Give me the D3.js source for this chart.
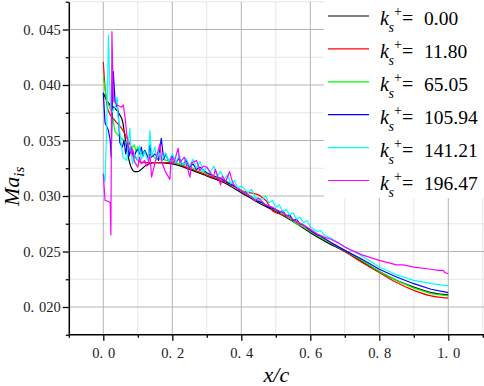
<!DOCTYPE html>
<html><head><meta charset="utf-8">
<script src="https://cdn.jsdelivr.net/npm/d3@7"></script>
<style>
html,body{margin:0;padding:0;background:#fff;} svg{display:block;}
</style>
</head><body>
<svg id="chart" width="484" height="386"></svg>
<script>
// ---------- data ----------
const xTicks = [0.0, 0.2, 0.4, 0.6, 0.8, 1.0];
const xMinor = [-0.1, 0.1, 0.3, 0.5, 0.7, 0.9, 1.1];
const yTicks = [0.020, 0.025, 0.030, 0.035, 0.040, 0.045];
const yMinor = [0.0175, 0.0225, 0.0275, 0.0325, 0.0375, 0.0425, 0.0475];
const legendValues = ["0.00", "11.80", "65.05", "105.94", "141.21", "196.47"];
const seriesColors = ["#000000", "#ff0000", "#00ff00", "#0000ff", "#00ffff", "#ff00ff"];

const ks000 = [[0,0.0393],[0.01,0.0386],[0.02,0.0382],[0.034,0.0379],[0.048,0.0373],[0.056,0.0367],[0.063,0.0353],[0.072,0.0336],[0.082,0.0325],[0.09,0.0322],[0.1,0.0322],[0.11,0.0324],[0.125,0.0328],[0.15,0.0330],[0.2,0.0329],[0.25,0.0324],[0.3,0.0318],[0.35,0.0312],[0.4,0.0303],[0.45,0.0294],[0.5,0.0286],[0.55,0.0277],[0.6,0.0267],[0.65,0.0258],[0.7,0.0250],[0.75,0.0241],[0.8,0.0232],[0.85,0.0224],[0.9,0.0218],[0.95,0.0213],[1.0,0.0211]];

const ks1180 = [[0,0.0421],[0.005,0.0398],[0.014,0.0377],[0.034,0.0368],[0.053,0.0361],[0.068,0.0353],[0.085,0.0341],[0.1,0.0332],[0.115,0.0330],[0.15,0.0330],[0.2,0.0330],[0.25,0.0325],[0.3,0.0319],[0.35,0.0313],[0.41,0.0304],[0.45,0.0301],[0.463,0.0298],[0.474,0.0295],[0.483,0.0290],[0.493,0.0286],[0.52,0.0283],[0.55,0.0278],[0.6,0.0268],[0.65,0.0259],[0.7,0.0250],[0.75,0.0240],[0.8,0.0231],[0.85,0.0222],[0.9,0.0215],[0.95,0.0210],[1.0,0.0208]];

const ks6505 = [[0,0.0407],[0.01,0.0386],[0.025,0.0375],[0.034,0.0358],[0.048,0.0353],[0.06,0.0350],[0.07,0.0346],[0.08,0.0342],[0.09,0.0346],[0.095,0.0340],[0.1,0.0344],[0.11,0.0338],[0.12,0.0341],[0.13,0.0336],[0.14,0.0338],[0.15,0.0334],[0.17,0.0333],[0.2,0.0331],[0.22,0.0329],[0.24,0.0328],[0.26,0.0325],[0.28,0.0323],[0.3,0.0320],[0.33,0.0317],[0.36,0.0313],[0.4,0.0305],[0.45,0.0296],[0.5,0.0287],[0.52,0.0284],[0.53,0.0282],[0.54,0.0280],[0.56,0.0275],[0.58,0.0272],[0.6,0.0268],[0.65,0.0259],[0.7,0.0251],[0.75,0.0242],[0.8,0.0232],[0.85,0.0224],[0.9,0.0217],[0.95,0.0212],[1.0,0.0210]];

const ks10594 = [[0,0.0393],[0.005,0.0366],[0.015,0.0359],[0.02,0.0350],[0.023,0.0335],[0.027,0.0398],[0.029,0.0412],[0.034,0.0386],[0.043,0.0377],[0.048,0.0348],[0.055,0.0344],[0.06,0.0350],[0.065,0.0338],[0.07,0.0348],[0.075,0.0336],[0.08,0.0344],[0.088,0.0334],[0.095,0.0340],[0.1,0.0342],[0.105,0.0338],[0.11,0.0344],[0.115,0.0336],[0.12,0.0341],[0.13,0.0334],[0.135,0.0346],[0.14,0.0335],[0.15,0.0338],[0.16,0.0332],[0.168,0.0352],[0.175,0.0333],[0.18,0.0338],[0.19,0.0331],[0.2,0.0336],[0.21,0.0330],[0.22,0.0334],[0.23,0.0328],[0.24,0.0332],[0.25,0.0326],[0.26,0.0329],[0.27,0.0324],[0.28,0.0326],[0.3,0.0321],[0.32,0.0318],[0.34,0.0316],[0.36,0.0312],[0.38,0.0309],[0.4,0.0304],[0.42,0.0301],[0.44,0.0296],[0.46,0.0294],[0.48,0.0290],[0.5,0.0288],[0.51,0.0285],[0.52,0.0287],[0.53,0.0282],[0.54,0.0283],[0.55,0.0278],[0.56,0.0279],[0.57,0.0275],[0.58,0.0274],[0.6,0.0269],[0.62,0.0265],[0.63,0.0264],[0.64,0.0262],[0.66,0.0258],[0.7,0.0251],[0.75,0.0243],[0.8,0.0234],[0.85,0.0227],[0.9,0.0221],[0.95,0.0216],[1.0,0.0213]];

const ks14121 = [[0,0.0321],[0.005,0.0313],[0.01,0.0362],[0.015,0.0445],[0.02,0.0386],[0.024,0.0375],[0.034,0.0380],[0.04,0.0389],[0.043,0.0371],[0.053,0.0344],[0.057,0.0335],[0.068,0.0332],[0.077,0.0361],[0.08,0.0341],[0.085,0.0329],[0.09,0.0338],[0.1,0.0332],[0.105,0.0345],[0.11,0.0333],[0.12,0.0340],[0.13,0.0331],[0.135,0.0359],[0.14,0.0336],[0.15,0.0344],[0.155,0.0333],[0.16,0.0340],[0.17,0.0332],[0.18,0.0339],[0.19,0.0331],[0.2,0.0338],[0.21,0.0330],[0.22,0.0337],[0.23,0.0328],[0.24,0.0334],[0.25,0.0327],[0.26,0.0333],[0.27,0.0325],[0.28,0.0331],[0.29,0.0322],[0.3,0.0326],[0.31,0.0321],[0.32,0.0327],[0.33,0.0318],[0.34,0.0322],[0.35,0.0315],[0.36,0.0319],[0.37,0.0311],[0.38,0.0314],[0.39,0.0307],[0.4,0.0309],[0.42,0.0303],[0.43,0.0306],[0.44,0.0299],[0.46,0.0297],[0.47,0.0300],[0.48,0.0294],[0.49,0.0296],[0.5,0.0290],[0.51,0.0292],[0.52,0.0286],[0.53,0.0288],[0.54,0.0283],[0.55,0.0285],[0.56,0.0279],[0.57,0.0281],[0.58,0.0276],[0.59,0.0278],[0.6,0.0272],[0.62,0.0268],[0.63,0.0269],[0.64,0.0265],[0.66,0.0262],[0.7,0.0254],[0.75,0.0246],[0.8,0.0236],[0.85,0.0229],[0.9,0.0224],[0.95,0.0221],[1.0,0.0219]];

const ks19647 = [[0,0.0320],[0.005,0.0296],[0.015,0.0295],[0.02,0.0294],[0.022,0.0265],[0.025,0.0448],[0.029,0.0386],[0.04,0.0382],[0.053,0.0380],[0.058,0.0382],[0.063,0.0371],[0.068,0.0356],[0.073,0.0344],[0.08,0.0338],[0.085,0.0342],[0.09,0.0331],[0.1,0.0326],[0.105,0.0335],[0.11,0.0329],[0.12,0.0332],[0.125,0.0327],[0.13,0.0328],[0.135,0.0338],[0.14,0.0317],[0.15,0.0330],[0.164,0.0347],[0.17,0.0330],[0.18,0.0322],[0.193,0.0315],[0.197,0.0335],[0.205,0.0330],[0.217,0.0343],[0.222,0.0330],[0.235,0.0335],[0.251,0.0317],[0.256,0.0330],[0.27,0.0332],[0.28,0.0323],[0.29,0.0327],[0.3,0.0326],[0.319,0.0317],[0.325,0.0324],[0.34,0.0310],[0.345,0.0318],[0.355,0.0313],[0.366,0.0322],[0.375,0.0312],[0.386,0.0307],[0.395,0.0306],[0.4,0.0304],[0.42,0.0301],[0.44,0.0296],[0.45,0.0298],[0.47,0.0292],[0.49,0.0290],[0.5,0.0288],[0.52,0.0285],[0.54,0.0281],[0.56,0.0277],[0.58,0.0274],[0.6,0.0270],[0.62,0.0266],[0.64,0.0263],[0.66,0.0261],[0.68,0.0258],[0.7,0.0254],[0.72,0.0251],[0.75,0.0247],[0.8,0.0242],[0.85,0.0238],[0.87,0.0238],[0.9,0.0236],[0.95,0.0234],[0.97,0.0233],[0.985,0.0233],[0.99,0.0231],[1.0,0.0230]];

const seriesData = [ks000, ks1180, ks6505, ks10594, ks14121, ks19647];
const smoothSeries = [true, true, false, false, false, false];

// ---------- layout ----------
const svg = d3.select("#chart");
const FONT = '"Liberation Serif"';
const x = d3.scaleLinear().domain([-0.1, 1.1]).range([68.8, 482.8]);
const y = d3.scaleLinear().domain([0.0175, 0.0475]).range([334.75, 1.75]);
const X0 = x.range()[0], X1 = 484, Y0 = y.range()[0], Y1 = y.range()[1];

// grid
const grid = svg.append("g");
grid.selectAll(".vminor").data(xMinor.filter(d => d > -0.1)).join("line")
  .attr("x1", d => x(d)).attr("x2", d => x(d)).attr("y1", Y1).attr("y2", Y0)
  .attr("stroke", "#e6e6e6").attr("stroke-width", 1);
grid.selectAll(".hminor").data(yMinor.filter(d => d > 0.0175)).join("line")
  .attr("x1", X0).attr("x2", X1).attr("y1", d => y(d)).attr("y2", d => y(d))
  .attr("stroke", "#e6e6e6").attr("stroke-width", 1);
grid.selectAll(".vmajor").data(xTicks).join("line")
  .attr("x1", d => x(d)).attr("x2", d => x(d)).attr("y1", Y1).attr("y2", Y0)
  .attr("stroke", "#b4b4b4").attr("stroke-width", 1);
grid.selectAll(".hmajor").data(yTicks).join("line")
  .attr("x1", X0).attr("x2", X1).attr("y1", d => y(d)).attr("y2", d => y(d))
  .attr("stroke", "#b4b4b4").attr("stroke-width", 1);

// legend background
svg.append("rect").attr("x", 324).attr("y", 0).attr("width", 160).attr("height", 198).attr("fill", "#fff");

// series
seriesData.forEach((data, i) => {
  const line = d3.line().x(d => x(d[0])).y(d => y(d[1]))
    .curve(smoothSeries[i] ? d3.curveMonotoneX : d3.curveLinear);
  svg.append("path").datum(data).attr("d", line)
    .attr("fill", "none").attr("stroke", seriesColors[i]).attr("stroke-width", 1.2)
    .attr("stroke-linejoin", "round");
});

// axes
function splitLabel(sel, fmt) {
  sel.selectAll(".tick text").each(function(d) {
    const s = fmt(d);
    const t = d3.select(this).text(null);
    t.append("tspan").text(s.slice(0, 2));
    t.append("tspan").attr("dx", 5).text(s.slice(2));
  });
}
const fmtX = d3.format(".1f"), fmtY = d3.format(".3f");

const gx = svg.append("g").attr("transform", `translate(0,${Y0})`)
  .call(d3.axisBottom(x).tickValues(xTicks).tickSize(6).tickSizeOuter(0).tickPadding(7));
gx.attr("font-family", null);
gx.select(".domain").attr("stroke-width", 1.5).attr("d", `M${X0},0H${X1}`);
gx.selectAll(".tick line").attr("stroke-width", 1.3);
gx.selectAll(".tick text").style("font-family", FONT).attr("font-size", 14.5).attr("fill", "#222");
splitLabel(gx, fmtX);
svg.append("g").attr("transform", `translate(0,${Y0})`)
  .call(d3.axisBottom(x).tickValues(xMinor).tickSize(3).tickSizeOuter(0).tickFormat(""))
  .call(g => { g.select(".domain").remove(); g.selectAll(".tick line").attr("stroke-width", 1.3); });

const gy = svg.append("g").attr("transform", `translate(${X0},0)`)
  .call(d3.axisLeft(y).tickValues(yTicks).tickSize(6).tickSizeOuter(0).tickPadding(2));
gy.attr("font-family", null);
gy.select(".domain").attr("stroke-width", 1.5);
gy.selectAll(".tick line").attr("stroke-width", 1.3);
gy.selectAll(".tick text").style("font-family", FONT).attr("font-size", 14.5).attr("fill", "#222");
splitLabel(gy, fmtY);
svg.append("g").attr("transform", `translate(${X0},0)`)
  .call(d3.axisLeft(y).tickValues(yMinor).tickSize(3).tickSizeOuter(0).tickFormat(""))
  .call(g => { g.select(".domain").remove(); g.selectAll(".tick line").attr("stroke-width", 1.3); });

// axis titles
svg.append("text").style("font-family", FONT).attr("x", (X0 + X1) / 2).attr("y", 382).attr("text-anchor", "middle")
  .attr("font-style", "italic").attr("font-size", 22).text("x/c");

const yt = svg.append("text").style("font-family", FONT).attr("transform", "translate(19,206) rotate(-90)")
  .attr("font-style", "italic").attr("font-size", 22);
yt.append("tspan").text("Ma");
yt.append("tspan").attr("font-size", 15).attr("dy", 5).text("is");

// legend
const leg = svg.append("g");
legendValues.forEach((v, i) => {
  const ly = 16 + i * 32.9;
  const base = ly + 9;
  leg.append("line").attr("x1", 328).attr("x2", 369).attr("y1", ly).attr("y2", ly)
    .attr("stroke", seriesColors[i]).attr("stroke-width", 1.2);
  const t = leg.append("text").style("font-family", FONT).attr("fill", "#000");
  t.append("tspan").attr("x", 380).attr("y", base).attr("font-size", 20).attr("font-style", "italic").text("k");
  t.append("tspan").attr("x", 388.5).attr("y", base + 7).attr("font-size", 14).attr("font-style", "italic").text("s");
  t.append("tspan").attr("x", 394).attr("y", base - 9).attr("font-size", 14).text("+");
  t.append("tspan").attr("x", 402).attr("y", base).attr("font-size", 20).text("=");
  t.append("tspan").attr("x", 424).attr("y", base).attr("font-size", 19.5).text(v);
});
</script>
</body></html>
